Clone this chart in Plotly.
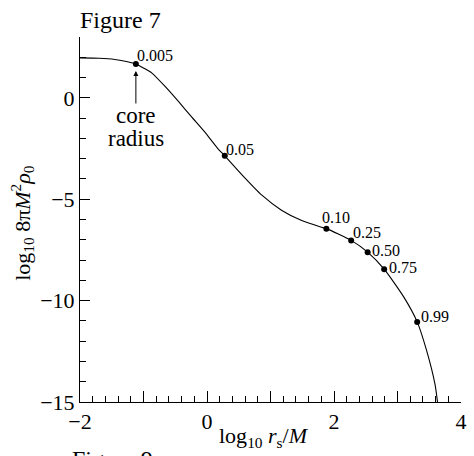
import plotly.graph_objects as go

# traced curve: log10 r_s/M vs log10 8 pi M^2 rho_0
curve_x = [-2.0, -1.7, -1.45, -1.25, -1.12, -1.0, -0.867, -0.66, -0.45, -0.246, -0.04,
           0.167, 0.28, 0.555, 0.864, 1.173, 1.483, 1.79, 1.88, 2.27, 2.53, 2.79,
           3.10, 3.31, 3.46, 3.59, 3.63]
curve_y = [1.97, 1.95, 1.89, 1.78, 1.67, 1.47, 1.22, 0.56, -0.18, -0.93, -1.67,
           -2.49, -2.86, -3.81, -4.80, -5.54, -6.04, -6.37, -6.45, -7.03, -7.61, -8.45,
           -9.83, -11.05, -12.48, -14.12, -15.0]

# marked points
mark_x = [-1.12, 0.28, 1.88, 2.27, 2.53, 2.79, 3.31]
mark_y = [1.67, -2.86, -6.45, -7.03, -7.61, -8.45, -11.05]
mark_labels = ["0.005", "0.05", "0.10", "0.25", "0.50", "0.75", "0.99"]

x_tickvals = [-2, -1, 0, 1, 2, 3, 4]
x_ticktext = ["\u22122", "", "0", "", "2", "", "4"]
y_tickvals = [-15, -10, -5, 0]
y_ticktext = ["\u221215", "\u221210", "\u22125", "0"]

FONT = "Liberation Serif, Times New Roman, serif"

# label offsets (pixels) for the point labels
label_shift = {
    "0.005": (-1, 8), "0.05": (-1, 6), "0.10": (-6, 11), "0.25": (0, 8),
    "0.50": (2, 2), "0.75": (3, 2), "0.99": (2, 5),
}

fig = go.Figure()
fig.add_trace(go.Scatter(x=curve_x, y=curve_y, mode="lines",
                         line=dict(color="black", width=1.1, shape="spline", smoothing=0.6),
                         hoverinfo="skip", showlegend=False))
fig.add_trace(go.Scatter(x=mark_x, y=mark_y, mode="markers",
                         marker=dict(color="black", size=6),
                         showlegend=False))

annotations = []
for xv, yv, lab in zip(mark_x, mark_y, mark_labels):
    dx, dy = label_shift[lab]
    annotations.append(dict(x=xv, y=yv, xref="x", yref="y", text=lab, showarrow=False,
                            xanchor="left", yanchor="middle", xshift=dx, yshift=dy,
                            font=dict(family=FONT, size=16, color="black")))

# core radius arrow and its two text lines
annotations.append(dict(x=mark_x[0], y=mark_y[0], xref="x", yref="y",
                        text="", showarrow=True, ax=0, ay=41,
                        arrowhead=2, arrowsize=1, arrowwidth=1, arrowcolor="black",
                        standoff=7))
annotations.append(dict(x=mark_x[0], y=mark_y[0], xref="x", yref="y", text="core",
                        showarrow=False, xanchor="center", yanchor="middle", yshift=-51,
                        height=20, font=dict(family=FONT, size=23, color="black")))
annotations.append(dict(x=mark_x[0], y=mark_y[0], xref="x", yref="y", text="radius",
                        showarrow=False, xanchor="center", yanchor="middle", yshift=-74,
                        height=20, font=dict(family=FONT, size=23, color="black")))

# titles and figure captions
annotations.append(dict(x=-0.005, y=1.047, xref="paper", yref="paper", text="Figure 7",
                        showarrow=False, xanchor="left", yanchor="middle",
                        font=dict(family=FONT, size=24, color="black")))
annotations.append(dict(x=-0.025, y=-0.115, xref="paper", yref="paper", text="Figure 9",
                        showarrow=False, xanchor="left", yanchor="top",
                        font=dict(family=FONT, size=24, color="black")))
annotations.append(dict(x=0.483, y=-0.096, xref="paper", yref="paper",
                        text="log<sub>10</sub> <i>r</i><sub>s</sub>/<i>M</i>",
                        showarrow=False, xanchor="center", yanchor="middle",
                        font=dict(family=FONT, size=22, color="black")))
annotations.append(dict(x=-0.153, y=0.49, xref="paper", yref="paper",
                        text="log<sub>10</sub> 8\u03c0<i>M</i><sup>2</sup><i>\u03c1</i><sub>0</sub>",
                        showarrow=False, xanchor="center", yanchor="middle", textangle=-90,
                        font=dict(family=FONT, size=22, color="black")))

fig.update_layout(
    width=474, height=456,
    margin=dict(l=80, r=7, t=37, b=54),
    paper_bgcolor="white", plot_bgcolor="white",
    font=dict(family=FONT, size=22, color="black"),
    annotations=annotations,
    xaxis=dict(range=[-2, 4], showgrid=False, zeroline=False,
               showline=True, linecolor="black", linewidth=1,
               tickmode="array", tickvals=x_tickvals, ticktext=x_ticktext,
               ticks="inside", ticklen=11, tickcolor="black", tickwidth=1,
               minor=dict(dtick=0.2, tick0=-2, ticks="inside", ticklen=6,
                          tickcolor="black", tickwidth=1, showgrid=False),
               tickfont=dict(family=FONT, size=22, color="black")),
    yaxis=dict(range=[-15, 3], showgrid=False, zeroline=False,
               showline=True, linecolor="black", linewidth=1,
               tickmode="array", tickvals=y_tickvals, ticktext=y_ticktext,
               ticks="inside", ticklen=10, tickcolor="black", tickwidth=1,
               minor=dict(dtick=1, tick0=0, ticks="inside", ticklen=6,
                          tickcolor="black", tickwidth=1, showgrid=False),
               tickfont=dict(family=FONT, size=22, color="black")),
)

fig.write_html("out.html", config={"displayModeBar": False},
               post_script="document.body.style.margin='0px';")
